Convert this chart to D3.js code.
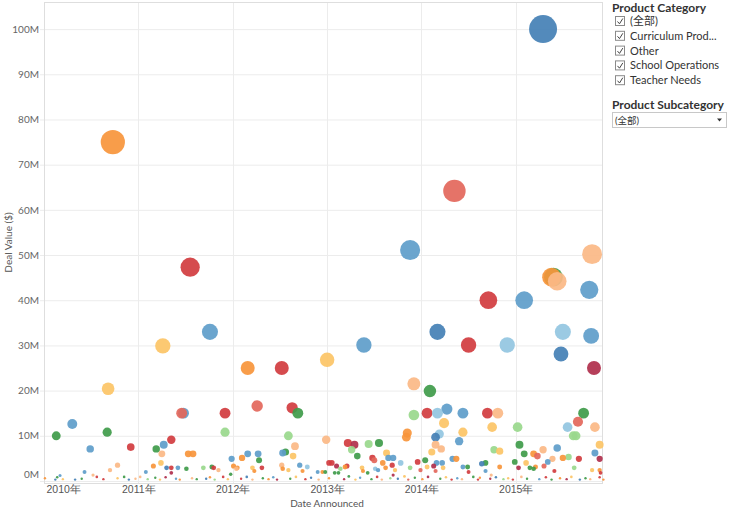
<!DOCTYPE html>
<html>
<head>
<meta charset="utf-8">
<script src="https://cdn.jsdelivr.net/npm/d3@7"></script>
<style>
  body { margin: 0; background: #fff; }
  svg { font-family: Lato, "Noto Sans CJK SC", sans-serif; }
</style>
</head>
<body>
<div id="chart"></div>
<script>
// Deal data: announcement date (decimal year), deal value ($M), subcategory colour index
var dealYears = [
  2015.29, 2010.73, 2011.55, 2014.35, 2013.88, 2015.81, 2015.40, 2015.38, 2015.44, 2015.78,
  2015.09, 2014.71, 2011.76, 2011.26, 2013.39, 2014.17, 2014.50, 2014.91, 2015.50, 2015.80,
  2015.48, 2015.83, 2013.00, 2012.16, 2012.52, 2010.68, 2013.92, 2014.09,
  2010.13, 2010.30, 2010.67, 2010.49, 2010.92, 2010.43, 2010.52, 2010.70, 2010.78,
  2011.48, 2011.46, 2011.92, 2011.92, 2011.35, 2011.27, 2011.19, 2011.25, 2011.24, 2011.16,
  2011.08, 2011.30, 2011.35, 2011.42, 2011.35, 2011.53, 2011.58, 2011.51, 2011.69, 2011.78,
  2011.80, 2011.85, 2011.99, 2012.05, 2011.98, 2012.26, 2012.63, 2012.69, 2012.59, 2012.66,
  2012.56, 2012.53, 2012.64, 2012.16, 2012.27, 2012.28, 2012.10, 2012.01, 2012.04, 2012.21,
  2012.23, 2012.31, 2012.52, 2012.53, 2012.59, 2012.71, 2012.79, 2012.74, 2012.90, 2012.95,
  2012.98, 2012.99, 2013.02, 2013.05, 2013.10, 2013.22, 2013.29, 2013.26, 2013.32, 2013.44,
  2013.55, 2013.14, 2013.19, 2013.21, 2013.08, 2013.12, 2013.37, 2013.38, 2013.43, 2013.48,
  2013.50, 2013.51, 2013.54, 2013.62, 2013.63, 2013.59, 2013.65, 2013.70, 2013.69, 2013.72,
  2013.70, 2013.78, 2013.85, 2013.84, 2013.92, 2014.06, 2013.96, 2013.99, 2013.88, 2014.17,
  2014.27, 2014.24, 2014.44, 2014.44, 2014.40, 2014.15, 2014.19, 2014.15, 2014.21, 2014.11,
  2014.04, 2014.16, 2014.22, 2014.06, 2014.13, 2014.15, 2014.23, 2014.33, 2014.37, 2014.44,
  2014.49, 2014.50, 2014.70, 2014.81, 2014.75, 2014.77, 2014.83, 2014.68, 2014.64, 2014.83,
  2014.68, 2014.74, 2015.02, 2015.04, 2015.09, 2015.19, 2015.23, 2014.99, 2015.11, 2015.03,
  2015.15, 2015.19, 2015.21, 2015.29, 2015.44, 2015.34, 2015.39, 2015.30, 2015.55, 2015.66,
  2015.72, 2015.61, 2015.64, 2015.84, 2015.89, 2015.84, 2015.89, 2015.50, 2015.56, 2015.67,
  2015.41, 2015.62, 2015.81, 2015.89, 2015.90,
  // small deals along the baseline
  2010.01, 2010.12, 2010.14, 2010.17, 2010.20, 2010.33, 2010.40, 2010.56, 2010.63, 2010.78,
  2010.85, 2010.90, 2010.97, 2011.02, 2011.10, 2011.18, 2011.23, 2011.29, 2011.40, 2011.44,
  2011.57, 2011.62, 2011.72, 2011.76, 2011.81, 2011.90, 2011.95, 2012.09, 2012.15, 2012.21,
  2012.32, 2012.38, 2012.43, 2012.47, 2012.61, 2012.67, 2012.77, 2012.83, 2012.91, 2013.02,
  2013.18, 2013.23, 2013.30, 2013.35, 2013.47, 2013.53, 2013.58, 2013.67, 2013.75, 2013.82,
  2013.86, 2013.93, 2014.01, 2014.07, 2014.20, 2014.26, 2014.32, 2014.38, 2014.43, 2014.55,
  2014.60, 2014.62, 2014.73, 2014.79, 2014.87, 2014.92, 2014.97, 2015.06, 2015.12, 2015.25,
  2015.32, 2015.38, 2015.47, 2015.54, 2015.59, 2015.68, 2015.74, 2015.79, 2015.89, 2015.93
];
var dealValues = [
  100, 75, 47.3, 64.2, 51.1, 50.2, 45.1, 45.1, 44.2, 42.3,
  40.0, 40.0, 33.0, 29.9, 30.1, 33.0, 30.1, 30.1, 33.0, 32.1,
  28.1, 25.0, 26.8, 25.0, 25.0, 20.4, 21.5, 19.9,
  10.0, 12.6, 10.8, 7.1, 7.5, 2.0, 1.3, 2.4, 3.5,
  15.0, 15.0, 15.0, 10.8, 9.1, 8.0, 7.1, 6.0, 4.0, 3.3,
  2.0, 2.9, 2.9, 2.9, 1.8, 6.0, 6.0, 2.7, 2.9, 3.1,
  2.9, 2.4, 4.9, 2.9, 1.5, 16.6, 16.2, 15.0, 10.0, 7.7,
  6.4, 6.2, 5.5, 6.0, 6.0, 4.6, 5.1, 3.3, 2.7, 2.9,
  2.2, 2.9, 3.5, 2.7, 2.4, 3.5, 3.1, 2.2, 2.0, 2.0,
  2.0, 9.1, 4.0, 4.0, 3.3, 8.4, 8.0, 6.9, 5.5, 8.2,
  8.4, 2.7, 3.1, 3.3, 1.8, 1.8, 2.9, 2.2, 1.8, 5.1,
  4.6, 2.7, 2.4, 2.9, 6.2, 4.0, 5.1, 5.1, 3.5, 2.4,
  1.3, 4.0, 10.6, 9.7, 14.6, 15.0, 4.2, 2.4, 2.9, 15.0,
  15.9, 12.8, 15.0, 10.8, 8.8, 9.7, 10.4, 8.0, 7.1, 6.4,
  4.6, 4.0, 4.0, 3.1, 3.3, 2.2, 2.9, 4.9, 4.9, 3.1,
  3.1, 2.0, 15.0, 15.0, 11.9, 6.9, 6.6, 4.0, 3.8, 3.1,
  2.2, 1.3, 11.9, 8.0, 6.0, 6.0, 5.5, 4.2, 4.0, 2.9,
  2.9, 2.7, 3.1, 6.9, 7.3, 4.2, 4.9, 3.3, 11.9, 13.1,
  15.0, 10.0, 10.0, 11.9, 8.0, 6.2, 4.9, 5.1, 5.3, 4.9,
  2.2, 2.9, 2.4, 2.4, 1.8,
  0.6, 0.3, 0.8, 1.2, 0.4, 0.3, 0.5, 0.9, 0.4, 0.6,
  0.9, 0.3, 0.5, 0.9, 0.4, 0.7, 0.3, 0.8, 0.5, 0.3,
  0.6, 0.4, 0.5, 0.8, 0.3, 0.9, 0.4, 0.5, 0.9, 0.3,
  0.6, 0.4, 0.8, 0.3, 0.5, 0.9, 0.4, 0.7, 0.3, 0.6,
  0.4, 1.0, 0.3, 0.7, 0.4, 0.9, 0.3, 0.6, 0.5, 1.0,
  0.3, 0.7, 0.4, 0.9, 0.5, 0.8, 0.3, 0.6, 0.4, 0.9,
  0.3, 0.7, 0.5, 0.8, 0.4, 0.6, 0.3, 0.9, 0.5, 0.4,
  0.8, 0.3, 0.6, 0.4, 0.9, 0.3, 0.6, 0.4, 0.8, 0.3
];
// 0 dark blue, 1 blue, 2 light blue, 3 orange, 4 yellow, 5 peach,
// 6 salmon, 7 red, 8 crimson, 9 green, 10 light green
var dealGroups = [
  0, 3, 7, 6, 1, 5, 9, 3, 5, 1,
  1, 7, 1, 4, 1, 0, 7, 2, 2, 1,
  0, 8, 4, 3, 7, 4, 5, 9,
  9, 1, 9, 1, 7, 1, 5, 5, 5,
  1, 6, 7, 10, 7, 1, 9, 5, 4, 3,
  1, 0, 7, 1, 8, 3, 3, 9, 10, 9,
  7, 5, 1, 3, 9, 6, 7, 9, 10, 5,
  9, 1, 4, 1, 1, 9, 3, 3, 5, 4,
  3, 7, 5, 3, 4, 1, 2, 3, 1, 3,
  9, 5, 7, 7, 8, 7, 8, 10, 9, 10,
  9, 10, 3, 7, 9, 9, 4, 3, 9, 7,
  6, 2, 1, 3, 4, 3, 1, 1, 7, 4,
  8, 2, 3, 3, 10, 7, 7, 6, 10, 2,
  1, 4, 1, 4, 1, 0, 2, 5, 5, 4,
  9, 1, 1, 4, 8, 6, 4, 1, 3, 1,
  9, 7, 7, 5, 4, 10, 4, 9, 0, 3,
  1, 5, 10, 9, 9, 3, 6, 9, 4, 8,
  9, 9, 3, 5, 1, 1, 5, 6, 2, 6,
  9, 10, 10, 5, 4, 1, 8, 3, 10, 7,
  7, 10, 4, 3, 7,
  3, 0, 9, 1, 4, 0, 9, 7, 7, 4,
  9, 0, 5, 5, 10, 9, 4, 8, 1, 3,
  5, 9, 0, 3, 10, 7, 4, 7, 0, 5,
  9, 3, 1, 8, 9, 4, 7, 0, 5, 3,
  8, 9, 4, 1, 9, 7, 5, 10, 0, 4,
  6, 9, 3, 8, 9, 4, 7, 1, 5, 9,
  7, 3, 8, 0, 10, 4, 7, 5, 9, 1,
  7, 9, 3, 8, 4, 0, 9, 5, 7, 3
];
var groupColors = ["#4480b5", "#5e9dca", "#93c5e1", "#f7953b", "#fcc466", "#fbb886",
                   "#e3675b", "#d13c3f", "#b02f4c", "#3f9b4a", "#99d88c"];

var yTicks = [0, 10, 20, 30, 40, 50, 60, 70, 80, 90, 100];
var xTickYears = [2010, 2011, 2012, 2013, 2014, 2015];
var categoryItems = ["(全部)", "Curriculum Prod...", "Other", "School Operations", "Teacher Needs"];

var width = 730, height = 513;
var plot = {left: 44, right: 602, top: 2, bottom: 483};

function yearToDate(y) {
  var yr = Math.floor(y);
  var start = new Date(yr, 0, 1), end = new Date(yr + 1, 0, 1);
  return new Date(+start + (y - yr) * (end - start));
}

var deals = dealYears.map(function(y, i) {
  return {date: yearToDate(y), value: dealValues[i], group: dealGroups[i]};
});
// draw big bubbles first so small ones stay visible
deals.sort(function(a, b) { return b.value - a.value; });

var svg = d3.select("#chart").append("svg")
  .attr("width", width)
  .attr("height", height);

var x = d3.scaleTime()
  .domain([new Date(2010, 0, 1), new Date(2015, 11, 1)])
  .range([plot.left, plot.right]);
var y = d3.scaleLinear()
  .domain([-0.45, 106])
  .range([plot.bottom, plot.top]);
var r = d3.scaleSqrt()
  .domain([0, 100])
  .range([0, 14]);

// gridlines
svg.append("g")
  .selectAll("line")
  .data(yTicks)
  .enter().append("line")
  .attr("x1", plot.left - 4).attr("x2", plot.right)
  .attr("y1", function(d) { return y(d) + 0.5; })
  .attr("y2", function(d) { return y(d) + 0.5; })
  .attr("stroke", "#ececec");

svg.append("g")
  .selectAll("line")
  .data(xTickYears.slice(1))
  .enter().append("line")
  .attr("x1", function(d) { return Math.round(x(new Date(d, 0, 1))) + 0.5; })
  .attr("x2", function(d) { return Math.round(x(new Date(d, 0, 1))) + 0.5; })
  .attr("y1", plot.top).attr("y2", plot.bottom)
  .attr("stroke", "#ececec");

// plot border
svg.append("rect")
  .attr("x", plot.left + 0.5).attr("y", plot.top + 0.5)
  .attr("width", plot.right - plot.left).attr("height", plot.bottom - plot.top)
  .attr("fill", "none")
  .attr("stroke", "#dedede");

// bubbles
svg.append("g")
  .selectAll("circle")
  .data(deals)
  .enter().append("circle")
  .attr("cx", function(d) { return x(d.date); })
  .attr("cy", function(d) { return y(d.value); })
  .attr("r", function(d) { return Math.max(1.2, r(d.value)); })
  .attr("fill", function(d) { return groupColors[d.group]; })
  .attr("fill-opacity", 0.92);

// y axis
var yAxis = svg.append("g")
  .attr("transform", "translate(" + (plot.left - 4) + ",0)")
  .call(d3.axisLeft(y).tickValues(yTicks).tickSize(0).tickPadding(1)
    .tickFormat(function(d) { return d + "M"; }));
yAxis.select(".domain").remove();
yAxis.selectAll("text")
  .attr("fill", "#666")
  .style("font-size", "10px")
  .style("font-family", "Lato, sans-serif");
yAxis.selectAll(".tick").filter(function(d) { return d === 0; })
  .select("text").attr("dy", "-0.3em");

svg.append("text")
  .attr("transform", "translate(12," + ((plot.top + plot.bottom) / 2) + ") rotate(-90)")
  .attr("text-anchor", "middle")
  .attr("fill", "#555")
  .style("font-size", "10px")
  .text("Deal Value ($)");

// x axis
var xAxis = svg.append("g")
  .attr("transform", "translate(0," + plot.bottom + ")")
  .call(d3.axisBottom(x).tickValues(xTickYears.map(function(d) { return new Date(d, 0, 1); }))
    .tickSize(0).tickPadding(3)
    .tickFormat(d3.timeFormat("%Y年")));
xAxis.select(".domain").remove();
xAxis.selectAll("text")
  .attr("fill", "#555")
  .style("font-size", "10.5px");
xAxis.selectAll(".tick").filter(function(d, i) { return i === 0; })
  .select("text").attr("text-anchor", "start").attr("x", 2);

svg.append("text")
  .attr("x", (plot.left + plot.right) / 2 + 4)
  .attr("y", 507)
  .attr("text-anchor", "middle")
  .attr("fill", "#555")
  .style("font-size", "10px")
  .text("Date Announced");

// filter panel
var panel = svg.append("g").attr("transform", "translate(612,0)");
panel.append("text")
  .attr("x", 0).attr("y", 12)
  .attr("fill", "#333")
  .style("font-size", "12px").style("font-weight", "bold")
  .text("Product Category");

var item = panel.selectAll("g.item")
  .data(categoryItems)
  .enter().append("g")
  .attr("class", "item")
  .attr("transform", function(d, i) { return "translate(0," + (21 + i * 14.8) + ")"; });
item.append("rect")
  .attr("x", 3.5).attr("y", -4.5)
  .attr("width", 9).attr("height", 9)
  .attr("fill", "#fff").attr("stroke", "#8a8a8a");
item.append("path")
  .attr("d", "M5.5,0.5 L7.5,2.8 L10.8,-2.5")
  .attr("fill", "none").attr("stroke", "#444").attr("stroke-width", 1);
item.append("text")
  .attr("x", 18).attr("y", 4)
  .attr("fill", "#333")
  .style("font-size", "11px")
  .text(function(d) { return d; });

panel.append("text")
  .attr("x", 0).attr("y", 109)
  .attr("fill", "#333")
  .style("font-size", "12px").style("font-weight", "bold")
  .text("Product Subcategory");
panel.append("rect")
  .attr("x", 0.5).attr("y", 112.5)
  .attr("width", 114).attr("height", 15)
  .attr("fill", "#fff").attr("stroke", "#c8c8c8");
panel.append("text")
  .attr("x", 3).attr("y", 123.5)
  .attr("fill", "#333")
  .style("font-size", "9.5px")
  .text("(全部)");
panel.append("path")
  .attr("d", "M105,118.5 L110,118.5 L107.5,121.5 Z")
  .attr("fill", "#333");
</script>
</body>
</html>
